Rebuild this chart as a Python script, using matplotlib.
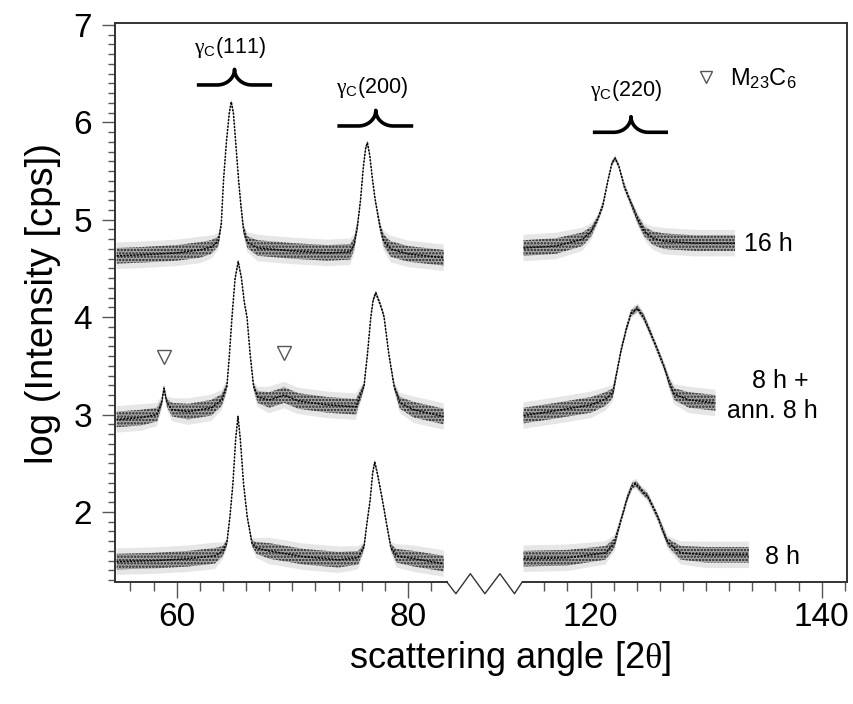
import numpy as np
import matplotlib
matplotlib.use("Agg")
import matplotlib.pyplot as plt
from matplotlib.ticker import FixedLocator, MultipleLocator

plt.rcParams['font.family'] = ['Liberation Sans', 'DejaVu Sans']
plt.rcParams['mathtext.fontset'] = 'custom'
plt.rcParams['mathtext.rm'] = 'Liberation Serif'
plt.rcParams['mathtext.sf'] = 'Liberation Sans'
plt.rcParams['mathtext.it'] = 'Liberation Sans:italic'
plt.rcParams['mathtext.bf'] = 'Liberation Sans:bold'
plt.rcParams['hatch.linewidth'] = 1.2

# ---------------- data ----------------
# each segment: angle [2theta], log intensity (band centre), band half width
s16_left_angle = [54.8, 57.0, 60.0, 62.0, 63.0, 63.6, 63.85, 64.05, 64.3, 64.55, 64.72, 64.9, 65.1, 65.35,
                  65.55, 65.78, 66.1, 67.0, 70.0, 73.0, 75.0, 75.35, 75.63, 75.9, 76.15, 76.35, 76.5,
                  76.7, 76.95, 77.15, 77.37, 77.6, 77.9, 78.5, 80.0, 83.1]
s16_left_logI = [4.63, 4.64, 4.66, 4.69, 4.72, 4.78, 4.95, 5.41, 5.80, 6.10, 6.21, 6.10, 5.80, 5.41,
                 5.15, 4.90, 4.77, 4.71, 4.68, 4.66, 4.67, 4.75, 4.93, 5.20, 5.55, 5.74, 5.79,
                 5.66, 5.40, 5.22, 5.07, 4.92, 4.79, 4.70, 4.65, 4.61]
s16_left_hw = [.08, .08, .08, .08, .07, .05, .03, .02, .02, .02, .02, .02, .02, .02,
               .03, .04, .06, .08, .08, .08, .08, .06, .04, .02, .02, .02, .02,
               .02, .02, .02, .03, .04, .06, .08, .08, .08]
s16_right_angle = [114.2, 117.0, 119.3, 120.06, 120.6, 121.07, 121.5, 121.85, 122.13, 122.45, 122.9,
                   123.5, 124.1, 124.65, 125.4, 126.34, 129.0, 132.5]
s16_right_logI = [4.71, 4.73, 4.80, 4.88, 5.00, 5.15, 5.40, 5.58, 5.63, 5.55, 5.35,
                  5.17, 5.00, 4.88, 4.81, 4.78, 4.76, 4.76]
s16_right_hw = [.08, .08, .07, .05, .03, .03, .02, .02, .02, .02, .03,
                .03, .04, .05, .07, .08, .08, .08]

sann_left_angle = [54.8, 57.0, 58.3, 58.7, 58.9, 59.15, 59.6, 61.0, 63.0, 63.9, 64.34, 64.55, 64.78,
                   65.05, 65.32, 65.6, 65.85, 66.08, 66.35, 66.65, 67.0, 68.0, 69.3, 70.5, 73.0,
                   75.5, 76.2, 76.5, 76.79, 77.0, 77.22, 77.45, 77.7, 77.94, 78.35, 78.81, 79.3,
                   80.5, 83.1]
sann_left_logI = [2.95, 2.97, 3.00, 3.12, 3.27, 3.12, 3.05, 3.03, 3.07, 3.15, 3.29, 3.60, 4.00,
                  4.40, 4.57, 4.40, 4.15, 4.00, 3.62, 3.29, 3.18, 3.15, 3.20, 3.14, 3.10,
                  3.08, 3.29, 3.62, 4.00, 4.18, 4.25, 4.18, 4.10, 4.00, 3.62, 3.29, 3.12,
                  3.05, 2.98]
sann_left_hw = [.08, .08, .07, .04, .03, .04, .07, .08, .08, .06, .04, .02, .02,
                .02, .02, .02, .02, .02, .02, .03, .06, .08, .08, .08, .08,
                .08, .03, .02, .02, .02, .02, .02, .02, .02, .02, .03, .06,
                .08, .08]
sann_right_angle = [114.2, 117.0, 120.06, 121.3, 121.93, 122.3, 122.64, 123.1, 123.5, 124.08, 124.6,
                    125.22, 125.8, 126.37, 126.8, 127.23, 128.5, 130.8]
sann_right_logI = [2.99, 3.04, 3.10, 3.16, 3.22, 3.45, 3.66, 3.88, 4.04, 4.09, 4.00,
                   3.83, 3.66, 3.49, 3.33, 3.21, 3.15, 3.12]
sann_right_hw = [.08, .08, .08, .07, .05, .03, .03, .03, .03, .03, .03,
                 .03, .03, .03, .04, .06, .08, .08]

s8_left_angle = [54.8, 58.0, 61.0, 63.3, 64.0, 64.34, 64.6, 64.86, 65.1, 65.3, 65.5, 65.78, 66.1,
                 66.51, 66.9, 68.0, 71.0, 74.0, 75.7, 76.2, 76.45, 76.73, 76.95, 77.13, 77.35,
                 77.8, 78.15, 78.52, 79.0, 80.5, 83.1]
s8_left_logI = [1.49, 1.50, 1.52, 1.55, 1.60, 1.68, 1.95, 2.29, 2.75, 2.98, 2.75, 2.29, 1.95,
                1.68, 1.63, 1.60, 1.54, 1.51, 1.53, 1.64, 1.88, 2.12, 2.40, 2.51, 2.40,
                2.12, 1.88, 1.64, 1.55, 1.52, 1.47]
s8_left_hw = [.08, .08, .08, .08, .05, .03, .02, .02, .02, .02, .02, .02, .02,
              .03, .06, .08, .08, .08, .07, .03, .02, .02, .02, .02, .02,
              .02, .02, .03, .07, .08, .08]
s8_right_angle = [114.2, 118.0, 121.3, 122.07, 122.64, 123.22, 123.6, 123.93, 124.4, 124.94, 125.4,
                  125.8, 126.66, 127.8, 130.0, 133.7]
s8_right_logI = [1.52, 1.53, 1.58, 1.68, 1.92, 2.16, 2.27, 2.29, 2.22, 2.16, 2.05,
                 1.95, 1.69, 1.58, 1.56, 1.56]
s8_right_hw = [.08, .08, .07, .05, .03, .03, .03, .03, .03, .03, .03,
               .03, .04, .07, .08, .08]

series_labels = ["16 h", "8 h +", "ann. 8 h", "8 h"]
peak_labels = ["(111)", "(200)", "(220)"]
peak_pos = [65.0, 77.22, 123.5]
m23c6_angle = [58.9, 69.3]
m23c6_logI = [3.595, 3.636]

x_major = [60, 80, 120, 140]
x_major_labels = ["60", "80", "120", "140"]
y_major = [2, 3, 4, 5, 6, 7]

# ---------------- broken axis scale ----------------
G0 = 89.95
OFF = 24.2


def fwd(x):
    x = np.asarray(x, float)
    return np.where(x <= G0, x, np.where(x < G0 + OFF, G0, x - OFF))


def inv(u):
    u = np.asarray(u, float)
    return np.where(u <= G0, u, u + OFF)


fig = plt.figure(figsize=(8.54, 7.04), dpi=100)
ax = fig.add_axes([115 / 854, 1 - 581.7 / 704, 731.7 / 854, 558.4 / 704])
ax.set_xscale('function', functions=(fwd, inv))
ax.set_xlim(54.66, 142.16)
ax.set_ylim(1.284, 7.017)

segments = [
    (s16_left_angle, s16_left_logI, s16_left_hw),
    (s16_right_angle, s16_right_logI, s16_right_hw),
    (sann_left_angle, sann_left_logI, sann_left_hw),
    (sann_right_angle, sann_right_logI, sann_right_hw),
    (s8_left_angle, s8_left_logI, s8_left_hw),
    (s8_right_angle, s8_right_logI, s8_right_hw),
]
for a, c, w in segments:
    a = np.array(a); c = np.array(c); w = np.array(w)
    ax.fill_between(a, c - 1.7 * w, c + 1.7 * w, facecolor='#e6e6e6', edgecolor='none', lw=0, zorder=1)
    ax.fill_between(a, c - w, c + w, facecolor='#a8a8a8', edgecolor='#222222', hatch='.....',
                    lw=0, zorder=2)
    ax.plot(a, c, color='black', lw=1.1, ls=(0, (1.3, 0.9)), zorder=3)

# M23C6 markers
ax.plot(m23c6_angle, m23c6_logI, ls='none', marker='v', ms=10, mfc='white', mec='#555555', mew=1.0,
        zorder=4)

# peak brackets
bracket_x0 = [61.74, 73.9, 120.2]
bracket_x1 = [68.25, 80.46, 126.7]
bracket_y = [6.384, 5.963, 5.898]
rx, hh = 1.5, 0.16
t = np.linspace(0, np.pi / 2, 30)
for xc, x0, x1, y0 in zip(peak_pos, bracket_x0, bracket_x1, bracket_y):
    lx = np.concatenate([[x0], (xc - rx) + rx * np.sin(t)])
    ly = np.concatenate([[y0], (y0 + hh) - hh * np.cos(t)])
    rxx = np.concatenate([(xc + rx) - rx * np.sin(t[::-1]), [x1]])
    ryy = np.concatenate([(y0 + hh) - hh * np.cos(t[::-1]), [y0]])
    ax.plot(np.concatenate([lx, rxx]), np.concatenate([ly, ryy]), color='black', lw=2.6,
            solid_capstyle='butt', zorder=4)

# peak labels
lab_x = [64.65, 76.93, 123.05]
lab_y = [6.713, 6.30, 6.27]
for lx_, ly_, txt in zip(lab_x, lab_y, peak_labels):
    ax.text(lx_, ly_, r'$\mathrm{\gamma}_{\mathsf{C}}$' + txt, ha='center', va='baseline', fontsize=15.5)

# legend for M23C6
ax.plot([129.96], [6.466], ls='none', marker='v', ms=9, mfc='white', mec='#555555', mew=1.0)
ax.text(132.1, 6.38, r'M$_{\mathsf{23}}$C$_{\mathsf{6}}$', ha='left', va='baseline', fontsize=17)

# series labels (figure pixel coords)
fig.text(768 / 854, 1 - 244 / 704, series_labels[0], ha='center', va='center', fontsize=18)
fig.text(780 / 854, 1 - 381 / 704, series_labels[1], ha='center', va='center', fontsize=18)
fig.text(772.5 / 854, 1 - 411 / 704, series_labels[2], ha='center', va='center', fontsize=18)
fig.text(782.5 / 854, 1 - 557.5 / 704, series_labels[3], ha='center', va='center', fontsize=18)

# spines / broken bottom axis
for s in ['left', 'top', 'right']:
    ax.spines[s].set_linewidth(1.4)
    ax.spines[s].set_color('#333333')
ax.spines['bottom'].set_visible(False)
trans = ax.get_xaxis_transform()
ax.plot([54.66, 83.35], [0, 0], color='#333333', lw=1.4, transform=trans, clip_on=False)
ax.plot([114.15, 142.16], [0, 0], color='#333333', lw=1.4, transform=trans, clip_on=False)
zz_x = [83.35, 84.15, 85.4, 86.66, 87.96, 89.22, 89.9]
zz_y = [0, -0.0215, 0.0143, -0.0215, 0.0143, -0.0215, 0]
ax.plot(zz_x, zz_y, color='#333333', lw=1.0, transform=trans, clip_on=False)

ax.xaxis.set_major_locator(FixedLocator(x_major))
ax.set_xticklabels(x_major_labels)
ax.xaxis.set_minor_locator(FixedLocator(list(range(56, 84, 2)) + list(range(116, 144, 2))))
ax.yaxis.set_major_locator(FixedLocator(y_major))
ax.yaxis.set_minor_locator(MultipleLocator(0.1))
ax.tick_params(axis='x', which='major', direction='out', length=11.3, width=1.0, color='#555555',
               labelsize=24, pad=3)
ax.tick_params(axis='x', which='minor', direction='out', length=6.5, width=1.0, color='#555555')
ax.tick_params(axis='y', which='major', direction='out', length=9.4, width=1.0, color='#555555',
               labelsize=24, pad=7)
ax.tick_params(axis='y', which='minor', direction='out', length=5, width=1.0, color='#555555')
ax.tick_params(top=False, right=False, which='both')

fig.text(43 / 854, 1 - 303.5 / 704, 'log (Intensity [cps])', rotation=90, ha='center', va='center',
         fontsize=27.5)
fig.text(510.5 / 854, 1 - 668 / 704, r'scattering angle [2$\mathrm{\theta}$]', ha='center',
         va='baseline', fontsize=26)

fig.savefig('out.png', dpi=100)
